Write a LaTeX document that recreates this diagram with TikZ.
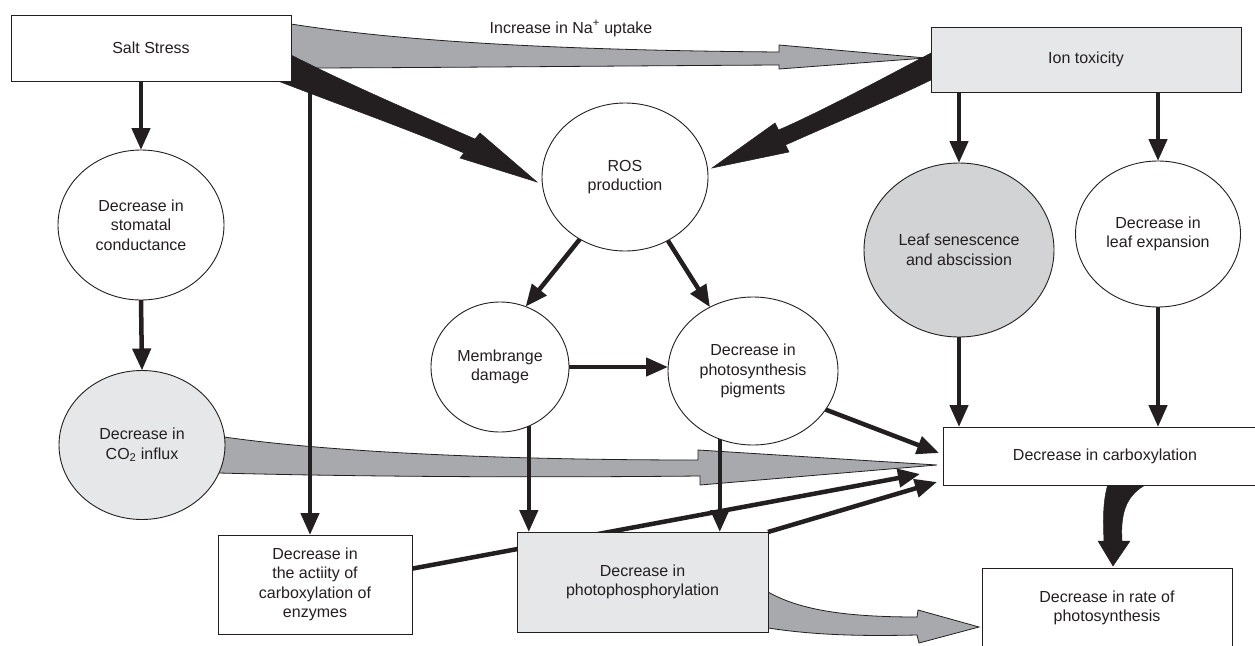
\documentclass[tikz,border=0pt]{standalone}
\usepackage{fontspec}
\setmainfont{Liberation Sans}
\usetikzlibrary{shapes.geometric,arrows.meta,calc}
\definecolor{ink}{HTML}{231F20}
\definecolor{lightfill}{HTML}{E6E7E8}
\definecolor{senfill}{HTML}{D1D3D4}
\definecolor{bandgray}{HTML}{A7A9AC}
\pgfdeclarelayer{back}
\pgfdeclarelayer{mid}
\pgfsetlayers{back,mid,main}
\begin{document}
\begin{tikzpicture}[x=1pt,y=-1pt,
  every node/.style={font=\fontsize{16}{19.5}\selectfont, text=ink, align=center, inner sep=0pt, outer sep=0pt},
  box/.style={draw=ink, line width=1pt, rectangle, fill=white},
  oval/.style={draw=ink, line width=0.9pt, ellipse, fill=white},
  blk/.style={draw=ink, line width=4.5pt, -{Triangle[width=18pt,length=22pt]}},
  band/.style={fill=bandgray, draw=ink, line width=0.8pt, line join=miter},
  wedge/.style={fill=ink, draw=ink, line width=0.5pt, line join=miter}]
\useasboundingbox (0,0) rectangle (1255,645);

% nodes
\node[box, minimum width=280pt, minimum height=66pt] (salt) at (151,48) {Salt Stress};
\node[box, fill=lightfill, minimum width=310pt, minimum height=65pt] (ion) at (1086,59.5) {Ion toxicity};
\node[anchor=base] (na) at (571,33) {Increase in Na\textsuperscript{+} uptake};
\node[oval, minimum width=166pt, minimum height=148pt] (ros) at (625,177) {ROS\\production};
\node[oval, minimum width=166pt, minimum height=150pt] (stom) at (141,225) {Decrease in\\stomatal\\conductance};
\node[oval, fill=lightfill, minimum width=166pt, minimum height=149pt] (co2) at (142,445) {Decrease in\\CO\textsubscript{2} influx};
\node[oval, minimum width=138pt, minimum height=130pt] (memb) at (500,367) {Membrange\\damage};
\node[oval, minimum width=170pt, minimum height=148pt] (pig) at (753,371) {Decrease in\\photosynthesis\\pigments};
\node[oval, fill=senfill, minimum width=190pt, minimum height=174pt] (sen) at (959,250) {Leaf senescence\\and abscission};
\node[oval, minimum width=165pt, minimum height=146pt] (exp) at (1158,234) {Decrease in\\leaf expansion};
\node[box, minimum width=324pt, minimum height=58pt] (carb) at (1105,456) {Decrease in carboxylation};
\node[box, minimum width=194pt, minimum height=99pt] (enz) at (315,584.5) {Decrease in\\the actiity of\\carboxylation of\\enzymes};
\node[box, fill=lightfill, minimum width=251pt, minimum height=100pt] (photo) at (642.5,582) {Decrease in\\photophosphorylation};
\node[box, minimum width=250pt, minimum height=80pt] (rate) at (1107,608) {Decrease in rate of\\photosynthesis};

% helper coordinates
\coordinate (ex) at (310,0);
\coordinate (tA) at ($(carb.west)+(-4,-3)$);
\coordinate (tB) at ($(carb.west)+(-6,9)$);
\coordinate (tC) at ($(carb.west)+(-23,18)$);
\coordinate (tD) at ($(carb.west)+(-6,26)$);
\coordinate (eS) at ($(enz.north east)!0.34!(enz.south east)$);

% background: white page and grey bands
\begin{pgfonlayer}{back}
\fill[white] (0,0) rectangle (1255,645);
% Salt stress -> ion toxicity
\path[band] (291,24) .. controls (380,38) and (520,50) .. (779,52) -- (779,45) -- (926,58)
  -- (779,69) -- (779,65) .. controls (600,66) and (400,68) .. (291,68) -- cycle;
% CO2 influx -> carboxylation
\path[band] (200,437) -- (224,437) .. controls (330,452) and (500,460) .. (698,460) -- (698,450) -- (tB)
  -- (700,485) -- (700,476) .. controls (500,478) and (330,476) .. (219,473) -- (200,473) -- cycle;
% photophosphorylation -> rate
\path[band] (760,592) -- (768,592) .. controls (800,610) and (845,617) .. (917,617) -- (918,610) -- (979,627)
  -- (919,643) -- (917,635) .. controls (870,636) and (820,636) .. (768,628) -- (760,628) -- cycle;
\end{pgfonlayer}

% connectors
\begin{pgfonlayer}{mid}
\draw[blk] (salt.south -| ex) -- (enz.north -| ex);
\draw[blk] (salt.south -| stom.north) -- (stom.north);
\draw[blk] (stom.south) -- (co2.north);
\draw[blk] (ion.south -| sen.north) -- (sen.north);
\draw[blk] (ion.south -| exp.north) -- (exp.north);
\draw[blk] (sen.south) -- (sen.south |- carb.north);
\draw[blk] (exp.south) -- (exp.south |- carb.north);
\draw[blk] (ros.234) -- (memb.67);
\draw[blk] (ros.-56) -- (pig.124);
\draw[blk] (memb.east) -- (memb.east -| pig.west);
\draw[blk] (memb.-64) -- (memb.-64 |- photo.north);
\draw[blk] (pig.244) -- (pig.244 |- photo.north);
\draw[blk] (pig.-28) -- (tA);
\draw[blk] (eS) -- (tC);
\draw[blk] (photo.north east) -- (tD);
% black wedges
\path[wedge] (291,55) .. controls (350,85) and (420,115) .. (475,139) -- (480,133) -- (537,182)
  -- (460,158) -- (464,153) .. controls (410,130) and (340,105) .. (278,81) -- (291,81) -- cycle;
\path[wedge] (931,53) .. controls (880,80) and (820,112) .. (778.5,130) -- (775,123) -- (712,168)
  -- (789,152) -- (785.5,145) .. controls (830,125) and (890,100) .. (931,80) -- cycle;
\path[wedge] (1108,484) .. controls (1103,500) and (1103,520) .. (1104,541) -- (1098,541) -- (1113,566)
  -- (1130,541) -- (1122,541) .. controls (1120,510) and (1128,494) .. (1147,484) -- cycle;
\end{pgfonlayer}
\end{tikzpicture}
\end{document}
